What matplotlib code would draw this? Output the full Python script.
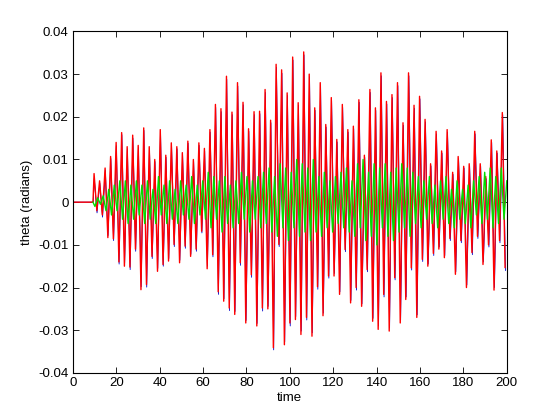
import numpy as np
import matplotlib
matplotlib.use("Agg")
import matplotlib.pyplot as plt

# red series: alternating extremes (radians), evenly spaced from t=9.8 to t=199.2
red_vals = [
    0.0067, -0.002, 0.005, -0.003, 0.008, -0.0083, 0.0107, -0.0086, 0.014, -0.014,
    0.0163, -0.015, 0.013, -0.0152, 0.0157, -0.011, 0.0133,
    -0.0205, 0.0174, -0.0193, 0.013, -0.0127, 0.010, -0.0162, 0.017, -0.0146,
    0.011, -0.0138, 0.0139, -0.0099, 0.013, -0.0142, 0.0116,
    -0.0103, 0.0143, -0.0127, 0.010, -0.011, 0.0139, -0.0068, 0.0126, -0.0156,
    0.017, -0.0123, 0.0229, -0.021, 0.0219, -0.0232, 0.0295, -0.0248, 0.0211,
    -0.0263, 0.028, -0.0142, 0.0234, -0.0283, 0.0172, -0.017, 0.0212, -0.029,
    0.0213, -0.0248, 0.0264, -0.025, 0.0192, -0.0341, 0.0323, -0.0099, 0.031,
    -0.0334, 0.0256, -0.0283, 0.034, -0.0275, 0.0233, -0.031, 0.0352, -0.027,
    0.030, -0.0314, 0.0221, -0.0198, 0.028, -0.0266, 0.0182, -0.0173,
    0.0245, -0.0173, 0.0147, -0.0216, 0.0229, -0.0111, 0.017, -0.0236, 0.0178,
    -0.020, 0.024, -0.0244, 0.011, -0.0158, 0.0264, -0.0279, 0.0221,
    -0.0298, 0.0303, -0.0216, 0.0236, -0.0302, 0.0252, -0.0177, 0.028, -0.0283,
    0.0186, -0.0228, 0.0303, -0.0154, 0.0227, -0.027, 0.0248, -0.0134,
    0.0194, -0.015, 0.009, -0.012, 0.0166, -0.011, 0.012, -0.013, 0.017, -0.0085,
    0.007, -0.0169, 0.0107, -0.009, 0.0084, -0.020, 0.009, -0.0118, 0.0166, -0.008,
    0.009, -0.0146, 0.006, -0.010, 0.0146, -0.0206, 0.012, -0.009, 0.021, -0.0153,
]

# blue series: mostly hidden under the red one
blue_vals = [
    0.0055, -0.0025, 0.0045, -0.0035, 0.0075, -0.0078, 0.0102, -0.009, 0.0132, -0.0145,
    0.0158, -0.0142, 0.0125, -0.0158, 0.015, -0.0115, 0.0128,
    -0.0198, 0.0168, -0.0199, 0.0125, -0.0132, 0.0095, -0.0155, 0.0165, -0.015,
    0.0105, -0.0132, 0.0134, -0.0104, 0.0125, -0.0136, 0.011,
    -0.0108, 0.0138, -0.0122, 0.0095, -0.0115, 0.0133, -0.0072, 0.012, -0.015,
    0.0164, -0.0128, 0.0222, -0.0216, 0.0212, -0.0226, 0.0288, -0.0254, 0.0205,
    -0.0256, 0.0272, -0.0148, 0.0228, -0.0277, 0.0166, -0.0176, 0.0205, -0.0284,
    0.0207, -0.0255, 0.0257, -0.0244, 0.0186, -0.0346, 0.0316, -0.0104, 0.0302,
    -0.0327, 0.025, -0.029, 0.0333, -0.0268, 0.0227, -0.0302, 0.0345, -0.0276,
    0.0294, -0.0306, 0.0215, -0.0204, 0.0273, -0.026, 0.0176, -0.0178,
    0.0238, -0.0167, 0.0141, -0.021, 0.0222, -0.0116, 0.0164, -0.023, 0.0172,
    -0.0206, 0.0234, -0.0238, 0.0105, -0.0163, 0.0257, -0.0272, 0.0215,
    -0.029, 0.0296, -0.0222, 0.023, -0.0295, 0.0245, -0.0182, 0.0273, -0.0276,
    0.018, -0.0222, 0.0296, -0.0159, 0.022, -0.0264, 0.0242, -0.0139,
    0.0188, -0.0145, 0.0085, -0.0125, 0.016, -0.0105, 0.0115, -0.0125, 0.0164, -0.009,
    0.0065, -0.0163, 0.0102, -0.0095, 0.008, -0.0194, 0.0085, -0.0123, 0.016, -0.0085,
    0.0085, -0.014, 0.0055, -0.0105, 0.014, -0.020, 0.0115, -0.0095, 0.0205, -0.016,
]

# green series: smaller oscillation
green_vals = [
    -0.001, 0.001, -0.0005, 0.0015, -0.002, 0.003, -0.003, 0.004, -0.002, 0.005,
    -0.004, 0.005, -0.005, 0.004, -0.004, 0.005, -0.003, 0.004, -0.005, 0.005,
    -0.004, 0.003, -0.005, 0.006, -0.003, 0.004, -0.005, 0.005, -0.004, 0.003,
    -0.005, 0.005, -0.003, 0.004, -0.004, 0.006, -0.005, 0.004, -0.003, 0.005,
    -0.004, 0.007, -0.006, 0.006, -0.004, 0.005, -0.007, 0.006, -0.005, 0.004,
    -0.006, 0.005, -0.005, 0.007, -0.004, 0.006, -0.007, 0.005, -0.004, 0.006,
    -0.006, 0.007, -0.005, 0.008, -0.007, 0.006, -0.008, 0.009, -0.006, 0.008,
    -0.009, 0.007, -0.006, 0.010, -0.008, 0.009, -0.007, 0.008, -0.009, 0.010,
    -0.007, 0.006, -0.008, 0.007, -0.006, 0.005, -0.007, 0.006, -0.005, 0.007,
    -0.006, 0.008, -0.007, 0.005, -0.008, 0.009, -0.006, 0.010, -0.009, 0.007,
    -0.008, 0.009, -0.010, 0.008, -0.006, 0.009, -0.008, 0.007, -0.009, 0.008,
    -0.007, 0.009, -0.006, 0.008, -0.008, 0.007, -0.005, 0.006, -0.006, 0.005,
    -0.004, 0.006, -0.005, 0.004, -0.006, 0.005, -0.004, 0.006, -0.005, 0.003,
    -0.006, 0.005, -0.004, 0.003, -0.005, 0.004, -0.006, 0.005, -0.003, 0.006,
    -0.005, 0.007, -0.004, 0.008, -0.006, 0.006, -0.005, 0.008, -0.004, 0.005,
]

x_ticks = [0, 20, 40, 60, 80, 100, 120, 140, 160, 180, 200]
y_ticks = [-0.04, -0.03, -0.02, -0.01, 0, 0.01, 0.02, 0.03, 0.04]
y_ticklabels = ["-0.04", "-0.03", "-0.02", "-0.01", "0", "0.01", "0.02", "0.03", "0.04"]

# time grids (flat zero before the motion starts at t~9)
t_red = np.concatenate([[0, 9.3], np.linspace(9.8, 199.2, len(red_vals))])
t_blue = np.concatenate([[0, 9.4], np.linspace(9.9, 199.4, len(blue_vals))])
t_green = np.concatenate([[9.3], np.linspace(10.2, 200, len(green_vals))])
red = np.concatenate([[0, 0], red_vals])
blue = np.concatenate([[0, 0], blue_vals])
green = np.concatenate([[0], green_vals])

plt.rcParams['font.family'] = ['Liberation Sans', 'DejaVu Sans']
fig = plt.figure(figsize=(5.6, 4.19), dpi=100)
ax = fig.add_axes([0.13, 0.11, 0.775, 0.815])

ax.plot(t_blue, blue, color="#0000cc", lw=0.6)
ax.plot(t_red, red, color="#ff0000", lw=1.0)
ax.plot(t_green, green, color="#00dd00", lw=1.0)

ax.set_xlim(0, 200)
ax.set_ylim(-0.04, 0.04)
ax.set_xticks(x_ticks)
ax.set_yticks(y_ticks)
ax.set_yticklabels(y_ticklabels)
ax.tick_params(direction="in", length=4, width=0.6, top=True, right=True, labelsize=9.5, pad=3)
for s in ax.spines.values():
    s.set_linewidth(0.8)
ax.set_xlabel("time", fontsize=9.5, labelpad=2)
ax.set_ylabel("theta (radians)", fontsize=9.5, labelpad=4)

fig.savefig("out.png", dpi=100)
